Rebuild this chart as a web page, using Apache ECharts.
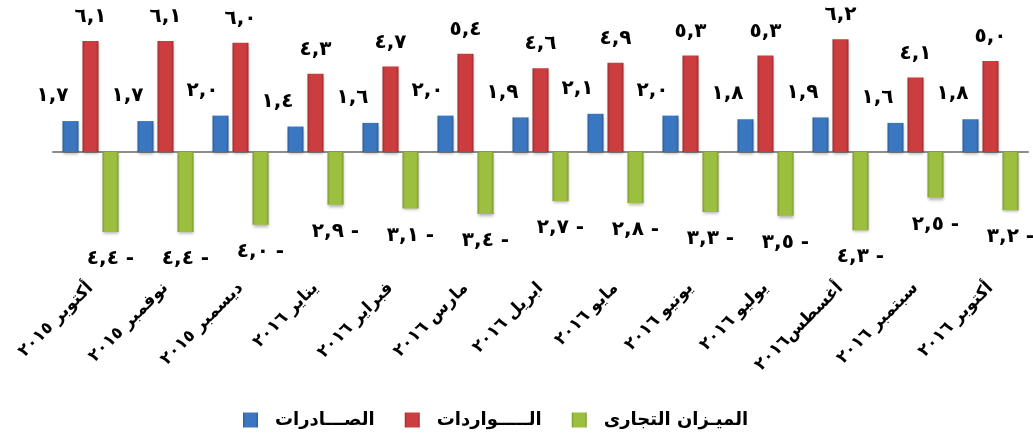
<!DOCTYPE html>
<html>
<head>
<meta charset="utf-8">
<style>
html,body{margin:0;padding:0;background:#fff;}
#chart{width:1033px;height:435px;}
</style>
<script src="https://cdn.jsdelivr.net/npm/echarts@6/dist/echarts.min.js"></script>
</head>
<body>
<div id="chart"></div>
<script>
const categories = ['أكتوبر ٢٠١٥','نوفمبر ٢٠١٥','ديسمبر ٢٠١٥','يناير ٢٠١٦','فبراير ٢٠١٦','مارس ٢٠١٦','ابريل ٢٠١٦','مايو ٢٠١٦','يونيو ٢٠١٦','يوليو ٢٠١٦','أغسطس٢٠١٦','سبتمبر ٢٠١٦','أكتوبر ٢٠١٦'];
const exportsData = [1.7, 1.7, 2.0, 1.4, 1.6, 2.0, 1.9, 2.1, 2.0, 1.8, 1.9, 1.6, 1.8];
const importsData = [6.1, 6.1, 6.0, 4.3, 4.7, 5.4, 4.6, 4.9, 5.3, 5.3, 6.2, 4.1, 5.0];
const balanceData = [-4.4, -4.4, -4.0, -2.9, -3.1, -3.4, -2.7, -2.8, -3.3, -3.5, -4.3, -2.5, -3.2];
const seriesNames = ['الصـــادرات', 'الـــــواردات', 'الميـزان التجارى'];

const AR = '٠١٢٣٤٥٦٧٨٩';
function toArabic(v) {
  const s = Math.abs(v).toFixed(1).replace('.', ',');
  const d = s.replace(/[0-9]/g, c => AR[+c]);
  return v < 0 ? d + ' -' : d;
}
function grad(edge, mid) {
  return new echarts.graphic.LinearGradient(0, 0, 1, 0, [
    {offset: 0, color: edge}, {offset: 0.15, color: mid},
    {offset: 0.85, color: mid}, {offset: 1, color: edge}
  ]);
}
const FONT = '"DejaVu Sans", sans-serif';
const labelStyle = {show: true, color: '#000', fontFamily: FONT, fontWeight: 'bold', fontSize: 20, formatter: p => toArabic(p.value)};

const chart = echarts.init(document.getElementById('chart'), null, {renderer: 'canvas'});
chart.setOption({
  animation: false,
  backgroundColor: '#fff',
  grid: {left: 53, right: 5, top: 24.6, bottom: 155.6, containLabel: false},
  legend: {
    left: 238, top: 406,
    itemWidth: 15, itemHeight: 15, itemGap: 30,
    icon: 'rect',
    textStyle: {fontFamily: FONT, fontWeight: 'bold', fontSize: 18, color: '#000', padding: [0, 0, 0, 12]},
    data: seriesNames
  },
  xAxis: [
    {type: 'category', data: categories, position: 'bottom',
     axisLine: {show: true, onZero: true, lineStyle: {color: '#8c8c8c', width: 2}},
     axisTick: {show: false}, axisLabel: {show: false}, splitLine: {show: false}},
    {type: 'category', data: categories, position: 'bottom', gridIndex: 0,
     axisLine: {show: false, onZero: false}, axisTick: {show: false}, splitLine: {show: false},
     axisLabel: {show: true, rotate: 45, interval: 0, margin: 6, color: '#000',
       fontFamily: FONT, fontWeight: 'bold', fontSize: 17}}
  ],
  yAxis: {type: 'value', min: -7, max: 7, show: false, splitLine: {show: false}},
  series: [
    {name: seriesNames[0], type: 'bar', xAxisIndex: 0, data: exportsData, barWidth: 16, barGap: '25%',
     itemStyle: {color: grad('#2a5b9a', '#3a77c0'), shadowBlur: 3, shadowColor: 'rgba(0,0,0,0.3)', shadowOffsetY: 2},
     label: Object.assign({}, labelStyle, {position: 'top', distance: 15, offset: [-18, 0]})},
    {name: seriesNames[1], type: 'bar', xAxisIndex: 0, data: importsData, barWidth: 16, barGap: '25%',
     itemStyle: {color: grad('#9e2a2c', '#cc3d3f'), shadowBlur: 3, shadowColor: 'rgba(0,0,0,0.3)', shadowOffsetY: 2},
     label: Object.assign({}, labelStyle, {position: 'top', distance: 14})},
    {name: seriesNames[2], type: 'bar', xAxisIndex: 0, data: balanceData, barWidth: 16, barGap: '25%',
     itemStyle: {color: grad('#7a982e', '#9dbf3f'), shadowBlur: 3, shadowColor: 'rgba(0,0,0,0.3)', shadowOffsetY: 2},
     label: Object.assign({}, labelStyle, {position: 'bottom', distance: 17})}
  ]
});
</script>
</body>
</html>
